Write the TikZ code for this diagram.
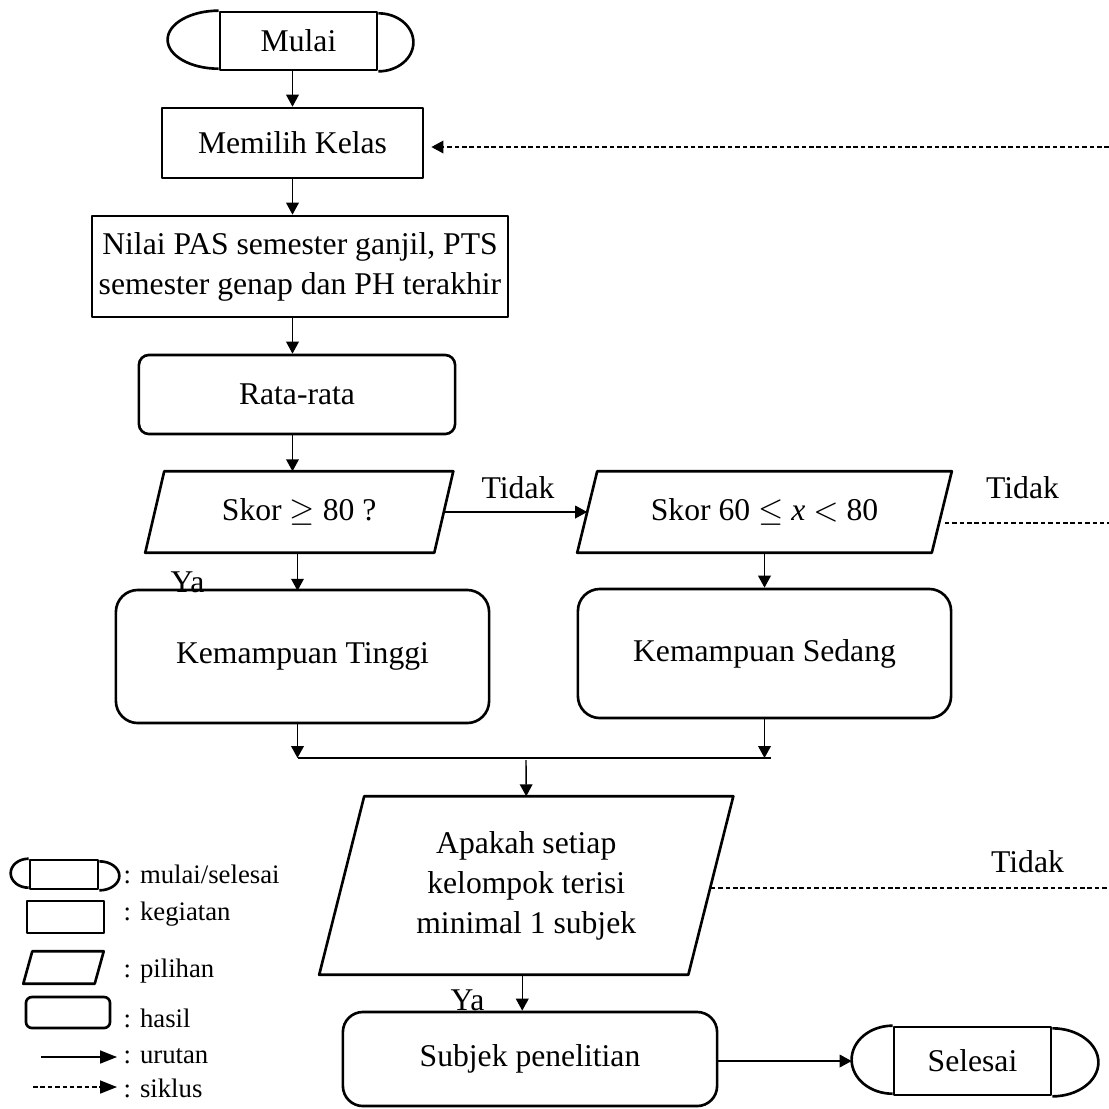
\documentclass[tikz,border=0pt]{standalone}
\usepackage{fontspec}
\setmainfont{Liberation Serif}
\usetikzlibrary{arrows.meta,calc}

\begin{document}
\begin{tikzpicture}[x=0.01cm, y=0.01cm, font=\fontsize{9}{11.4}\selectfont, line join=round,
	garis/.style={line width=0.75pt},
	kegiatan/.style={draw, garis, rectangle, inner sep=0pt, align=center},
	hasil/.style={draw, garis, rectangle, rounded corners=0.22cm, inner sep=0pt, align=center},
	pilihan/.style={rectangle, inner sep=0pt, align=center},
	terminal/.style={draw, garis, rectangle, inner sep=0pt},
	tipis/.style={line width=0.4pt},
	urutan/.style={tipis, -{Triangle[length=3.4pt,width=3.6pt]}},
	putus/.style={tipis, dash pattern=on 1.3pt off 0.8pt},
	siklus/.style={urutan, putus},
	lbl/.style={anchor=base, inner sep=0pt},
	ket/.style={font=\fontsize{7.6}{9}\selectfont, anchor=base west, inner sep=0pt}]
				% jajaran genjang di sekitar node #1, kemiringan #2
				\def\jajar#1#2{\draw[garis] ($(#1.south west)+(-#2/2,0)$) -- ($(#1.north west)+(#2/2,0)$)
					-- ($(#1.north east)+(#2/2,0)$) -- ($(#1.south east)+(-#2/2,0)$) -- cycle;}
				\useasboundingbox (0,0) rectangle (1109,-1108);
				\path
				(1109,-147) coordinate (kanan1)
				(1109,-523) coordinate (kanan2)
				(1109,-888) coordinate (kanan3)
				(526,-758) coordinate (gabung)
				;
				% alur utama
				\node[terminal, minimum width=1.57cm, minimum height=0.58cm] (mulai) at (298.5,-41) {Mulai};
				\draw[garis] (mulai.north west) arc[start angle=90, end angle=270, x radius=0.51cm, y radius=0.29cm];
				\draw[garis] (mulai.south east) arc[start angle=-90, end angle=90, x radius=0.35cm, y radius=0.29cm];
				
				\node[kegiatan, minimum width=2.61cm, minimum height=0.70cm] (memilih) at (292.5,-143) {Memilih Kelas};
				\node[kegiatan, minimum width=4.16cm, minimum height=1.01cm] (nilai) at (300,-266.5) {Nilai PAS semester ganjil, PTS\\semester genap dan PH terakhir};
				\node[hasil, rounded corners=0.1cm, minimum width=3.16cm, minimum height=0.79cm] (rata) at (297,-394.5) {Rata-rata};
				\node[pilihan, minimum width=2.875cm, minimum height=0.80cm] (skor1) at (299.25,-512) {Skor $\geq$ 80 ?};
				\jajar{skor1}{19}
				\node[pilihan, minimum width=3.53cm, minimum height=0.80cm] (skor2) at (764.5,-512) {Skor 60 $\leq$ \textit{x} $<$ 80};
				\jajar{skor2}{20}
				\node[hasil, minimum width=3.73cm, minimum height=1.33cm] (tinggi) at (302.5,-656.5) {Kemampuan Tinggi};
				\node[hasil, minimum width=3.73cm, minimum height=1.29cm] (sedang) at (764.5,-653.5) {Kemampuan Sedang};
				\node[pilihan, minimum width=3.675cm, minimum height=1.77cm] (apakah) at (526.25,-885.5) {Apakah setiap\\kelompok terisi\\minimal 1 subjek};
				\jajar{apakah}{45}
				\node[hasil, rounded corners=0.2cm, minimum width=3.74cm, minimum height=0.94cm] (subjek) at (530,-1059) {Subjek penelitian};
				
				\node[terminal, minimum width=1.57cm, minimum height=0.68cm] (selesai) at (972.5,-1061) {Selesai};
				\draw[garis] (selesai.north west) arc[start angle=90, end angle=270, x radius=0.41cm, y radius=0.34cm];
				\draw[garis] (selesai.south east) arc[start angle=-90, end angle=90, x radius=0.46cm, y radius=0.34cm];
				\coordinate (selesaiL) at ($(selesai.west)+(-41,0)$);
				
				\draw[urutan] (mulai.south -| memilih.north) -- (memilih.north);
				\draw[urutan] (memilih.south) -- (memilih.south |- nilai.north);
				\draw[urutan] (nilai.south -| memilih.south) -- (memilih.south |- rata.north);
				\draw[urutan] (rata.south -| memilih.south) -- (memilih.south |- skor1.north);
				\draw[urutan] (skor1.east) -- (skor2.west);
				\draw[urutan] (skor1.south -| tinggi.north) ++(-5,0) -- +(0,-38);
				\draw[urutan] (skor2.south) -- (skor2.south |- sedang.north);
				\draw[urutan] ([xshift=-0.05cm]tinggi.south) -- ([xshift=-0.05cm]tinggi.south |- gabung);
				\draw[urutan] (sedang.south) -- (sedang.south |- gabung);
				\draw[tipis] ([xshift=-0.05cm]tinggi.south |- gabung) -- ([xshift=0.06cm]sedang.south |- gabung);
				\draw[urutan] ([yshift=-0.02cm]gabung) -- (apakah.north);
				\draw[urutan] ([xshift=-0.04cm]apakah.south) -- ([xshift=-0.04cm]apakah.south |- subjek.north);
				\draw[urutan] (subjek.east |- selesai.west) -- (selesaiL);
				
				% siklus (garis putus-putus)
				\draw[siklus, shorten >=2pt] (kanan1) -- (kanan1 -| memilih.east);
				\draw[putus] ([xshift=0.03cm]kanan2 -| skor2.east) -- (kanan2);
				\draw[putus] (kanan3 -| apakah.east) -- (kanan3);
				
				\node[lbl] at (518,-498) {Tidak};
				\node[lbl] at (1022.5,-498) {Tidak};
				\node[lbl] at (1027.5,-872) {Tidak};
				\node[lbl] at (187.5,-592) {Ya};
				\node[lbl] at (467.5,-1010) {Ya};
				
				% keterangan
				\node[terminal, minimum width=0.68cm, minimum height=0.29cm] (lmulai) at (64,-874.5) {};
				\draw[garis] (lmulai.north west) arc[start angle=90, end angle=270, x radius=0.18cm, y radius=0.145cm];
				\draw[garis] (lmulai.south east) arc[start angle=-90, end angle=90, x radius=0.20cm, y radius=0.145cm];
				\node[kegiatan, minimum width=0.77cm, minimum height=0.32cm] (lkegiatan) at (65.5,-917) {};
				\node[pilihan, minimum width=0.70cm, minimum height=0.31cm] (lpilihan) at (63.5,-967.5) {};
				\jajar{lpilihan}{9}
				\node[hasil, rounded corners=0.06cm, minimum width=0.84cm, minimum height=0.31cm] (lhasil) at (68,-1012.5) {};
				\path (41,-1057) coordinate (lu1) (117,-1057) coordinate (lu2)
				(33,-1087) coordinate (ls1) (117,-1087) coordinate (ls2);
				\draw[tipis, -{Triangle[length=4.8pt,width=3.7pt]}] (lu1) -- (lu2);
				\draw[putus, -{Triangle[length=4.8pt,width=3.7pt]}] (ls1) -- (ls2);
				
				\node[ket] at (123,-883) {: mulai/selesai};
				\node[ket] at (123,-920) {: kegiatan};
				\node[ket] at (123,-977) {: pilihan};
				\node[ket] at (123,-1027) {: hasil};
				\node[ket] at (123,-1063) {: urutan};
				\node[ket] at (123,-1097) {: siklus};
\end{tikzpicture}
\end{document}
